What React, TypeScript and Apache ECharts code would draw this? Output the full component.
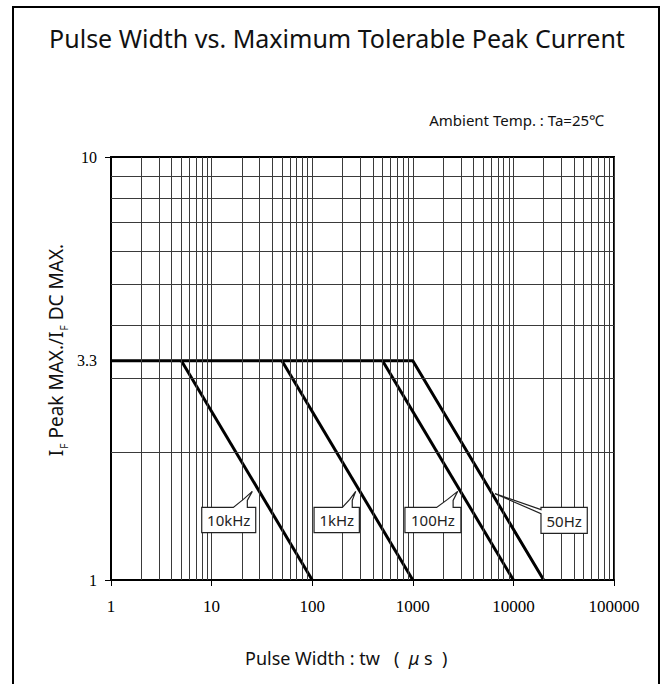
import React, { useEffect, useRef } from "react";
import * as echarts from "echarts";

// ---- data ----
const xMin = 1;
const xMax = 100000;
const yMin = 1;
const yMax = 10;
const peakRatio = 3.3;

// curves: pulse width (µs) vs. I_F peak max / I_F DC max
const curve10kHz: [number, number][] = [[5, 3.3], [100, 1]];
const curve1kHz: [number, number][] = [[50, 3.3], [1000, 1]];
const curve100Hz: [number, number][] = [[500, 3.3], [10000, 1]];
const curve50Hz: [number, number][] = [[1, 3.3], [1000, 3.3], [20000, 1]];

const calloutNames = ["10kHz", "1kHz", "100Hz", "50Hz"];
const calloutTipX = [25.4, 271, 2790, 6560];
const calloutTipY = [1.62, 1.62, 1.62, 1.6];

const decades = [1, 10, 100, 1000, 10000];
const minorMultipliers = [2, 3, 4, 5, 6, 7, 8, 9];
const yMinorValues = [2, 3, 4, 5, 6, 7, 8, 9];

// ---- layout (pixel offsets of callouts relative to their tip) ----
const calloutShapes = [
  { poly: [[-50.6, 16], [-19, 16], [-9, 8], [0, 0], [-5, 9], [-5, 16], [3.4, 16], [3.4, 41.3], [-50.6, 41.3]], tx: -23.6, ty: 29 },
  { poly: [[-41.7, 16], [-13.4, 16], [-6, 8], [0, 0], [-3.5, 9], [-3.5, 16], [3.6, 16], [3.6, 41.3], [-41.7, 41.3]], tx: -19, ty: 29 },
  { poly: [[-52.7, 16], [-21, 16], [-10, 8], [0, 0], [-4.5, 9], [-4.5, 16], [3.3, 16], [3.3, 41.3], [-52.7, 41.3]], tx: -24.7, ty: 29 },
  { poly: [[46, 13.7], [92.3, 13.7], [92.3, 39.7], [46, 39.7], [46, 20], [0, 0], [46, 16]], tx: 69.2, ty: 27 },
];

const SANS = '"Noto Sans", "Open Sans", sans-serif';
const SERIF = '"Liberation Serif", "DejaVu Serif", serif';
const GRID_COLOR = "#3a3a3a";

export default function App() {
  const ref = useRef<HTMLDivElement>(null);

  useEffect(() => {
    if (!ref.current) return;
    const chart = echarts.init(ref.current, undefined, { renderer: "svg" });

    const xGridLines: any[] = [];
    decades.forEach((d) => minorMultipliers.forEach((m) => xGridLines.push({ xAxis: d * m })));
    const yGridLines: any[] = yMinorValues.map((v) => ({ yAxis: v }));

    const curveStyle = { color: "#000", width: 3 };
    const mkCurve = (name: string, data: [number, number][]) => ({
      name,
      type: "line",
      data,
      showSymbol: false,
      symbol: "none",
      lineStyle: curveStyle,
      z: 4,
      silent: true,
    });

    const calloutData = calloutNames.map((_, i) => [calloutTipX[i], calloutTipY[i], i]);

    chart.setOption({
      animation: false,
      backgroundColor: "#fff",
      grid: {
        left: 111,
        right: 49,
        top: 157,
        bottom: 104,
        show: true,
        borderColor: "#000",
        borderWidth: 2,
      },
      xAxis: {
        type: "log",
        logBase: 10,
        min: xMin,
        max: xMax,
        axisLine: { show: true, lineStyle: { color: "#000", width: 2 } },
        axisTick: { show: true, length: 6, lineStyle: { color: "#000", width: 1 } },
        axisLabel: {
          margin: 18,
          color: "#000",
          fontFamily: SERIF,
          fontSize: 17,
          formatter: (v: number) => String(Math.round(v)),
        },
        splitLine: { show: true, lineStyle: { color: GRID_COLOR, width: 1 } },
      },
      yAxis: {
        type: "log",
        logBase: 10,
        min: yMin,
        max: yMax,
        axisLine: { show: true, lineStyle: { color: "#000", width: 2 } },
        axisTick: { show: true, length: 6, lineStyle: { color: "#000", width: 1 } },
        axisLabel: {
          margin: 14,
          color: "#000",
          fontFamily: SERIF,
          fontSize: 16,
          formatter: (v: number) => String(Math.round(v)),
        },
        splitLine: { show: false },
      },
      series: [
        {
          name: "grid",
          type: "line",
          data: [],
          silent: true,
          z: 1,
          markLine: {
            silent: true,
            symbol: "none",
            animation: false,
            label: { show: false },
            lineStyle: { color: GRID_COLOR, width: 1, type: "solid" },
            data: [
              ...xGridLines,
              ...yGridLines,
              {
                yAxis: peakRatio,
                lineStyle: { color: "rgba(0,0,0,0)", width: 0 },
                label: {
                  show: true,
                  position: "start",
                  distance: 14,
                  formatter: "3.3",
                  color: "#000",
                  fontFamily: SERIF,
                  fontSize: 16,
                },
              },
            ],
          },
        },
        mkCurve("10kHz", curve10kHz),
        mkCurve("1kHz", curve1kHz),
        mkCurve("100Hz", curve100Hz),
        mkCurve("50Hz", curve50Hz),
        {
          name: "callouts",
          type: "custom",
          data: calloutData,
          clip: false,
          z: 6,
          silent: true,
          renderItem: (params: any, api: any) => {
            const i = api.value(2);
            const p = api.coord([api.value(0), api.value(1)]);
            const s = calloutShapes[i];
            return {
              type: "group",
              children: [
                {
                  type: "polygon",
                  shape: { points: s.poly.map(([dx, dy]) => [p[0] + dx, p[1] + dy]) },
                  style: { fill: "#fff", stroke: "#222", lineWidth: 1.2 },
                },
                {
                  type: "text",
                  x: p[0] + s.tx,
                  y: p[1] + s.ty,
                  style: {
                    text: calloutNames[i],
                    fill: "#222",
                    font: `15px ${SANS}`,
                    align: "center",
                    verticalAlign: "middle",
                  },
                },
              ],
            };
          },
        },
      ],
      graphic: [
        {
          type: "rect",
          shape: { x: 13, y: 7, width: 646, height: 700 },
          style: { fill: "none", stroke: "#000", lineWidth: 2 },
          silent: true,
        },
        {
          type: "text",
          x: 337,
          y: 38,
          style: {
            text: "Pulse Width vs. Maximum Tolerable Peak Current",
            font: `25px ${SANS}`,
            fill: "#111",
            align: "center",
            verticalAlign: "middle",
          },
        },
        {
          type: "text",
          x: 604,
          y: 120,
          style: {
            text: "Ambient Temp. : Ta=25℃",
            font: `15px ${SANS}`,
            fill: "#111",
            align: "right",
            verticalAlign: "middle",
          },
        },
        {
          type: "text",
          x: 245,
          y: 658,
          style: {
            text: "{n|Pulse Width : tw   (  }{i|μ}{n| s  )}",
            align: "left",
            verticalAlign: "middle",
            fill: "#111",
            rich: {
              n: { fontFamily: SANS, fontSize: 18, fill: "#111" },
              i: { fontFamily: SANS, fontSize: 18, fontStyle: "italic", fill: "#111" },
            },
          },
        },
        {
          type: "text",
          x: 56,
          y: 350,
          rotation: Math.PI / 2,
          style: {
            text: "{n|I}{s|F}{n|Peak MAX./I}{s|F}{n|DC MAX.}",
            align: "center",
            verticalAlign: "middle",
            fill: "#111",
            rich: {
              n: { fontFamily: SANS, fontSize: 19, lineHeight: 26, fill: "#111" },
              s: {
                fontFamily: SANS,
                fontSize: 10,
                lineHeight: 14,
                verticalAlign: "bottom",
                padding: [0, 5, 0, 1],
                fill: "#111",
              },
            },
          },
        },
      ],
    });

    return () => chart.dispose();
  }, []);

  return (
    <div
      ref={ref}
      style={{ position: "absolute", left: 0, top: 0, width: 663, height: 684, background: "#fff" }}
    />
  );
}
